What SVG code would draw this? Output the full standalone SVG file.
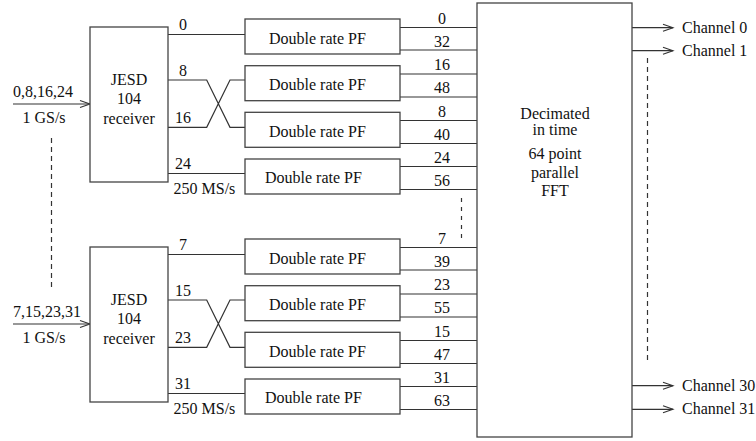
<svg xmlns="http://www.w3.org/2000/svg" width="756" height="441" viewBox="0 0 756 441">
<defs>
<marker id="arr" markerUnits="userSpaceOnUse" markerWidth="12" markerHeight="8" refX="10" refY="3.5" orient="auto" overflow="visible">
<path d="M0,0 L10,3.5 L0,7" fill="none" stroke="#333" stroke-width="1.1"/>
</marker>
</defs>
<style>
.box{fill:#fff;stroke:#444;stroke-width:1.3}
.ln{fill:none;stroke:#333;stroke-width:1.2}
.dash{fill:none;stroke:#333;stroke-width:1.2;stroke-dasharray:5,4}
text{font-family:"Liberation Serif","Times New Roman",serif;font-size:16px;fill:#111}
.c{text-anchor:middle}
</style>
<rect width="756" height="441" fill="#fff"/>
<g id="connectors">
<line class="ln" x1="13" y1="104" x2="90" y2="104" marker-end="url(#arr)"/>
<line class="ln" x1="13" y1="324" x2="90" y2="324" marker-end="url(#arr)"/>
<path class="ln" d="M168,34.5H245M168,80H206.7L230,127.3H245M168,127.3H206.7L230,80H245M168,173.5H245"/>
<path class="ln" d="M168,254.5H245M168,300H206.7L230,347.3H245M168,347.3H206.7L230,300H245M168,393.5H245"/>
<path class="ln" d="M400,27.5H477M400,50H477M400,74H477M400,97H477M400,120.5H477M400,143.5H477M400,166.5H477M400,189.5H477"/>
<path class="ln" d="M400,247.5H477M400,270H477M400,294H477M400,317H477M400,340.5H477M400,363.5H477M400,386.5H477M400,409.5H477"/>
<line class="ln" x1="632" y1="27.7" x2="673" y2="27.7" marker-end="url(#arr)"/>
<line class="ln" x1="632" y1="50.7" x2="673" y2="50.7" marker-end="url(#arr)"/>
<line class="ln" x1="632" y1="385.7" x2="673" y2="385.7" marker-end="url(#arr)"/>
<line class="ln" x1="632" y1="409.3" x2="673" y2="409.3" marker-end="url(#arr)"/>
<line class="dash" x1="51.5" y1="138" x2="51.5" y2="288"/>
<line class="dash" x1="461.5" y1="198" x2="461.5" y2="240" style="stroke-dasharray:4,5"/>
<line class="dash" x1="647.5" y1="58" x2="647.5" y2="362"/>
</g>
<g id="labels">
<text x="13" y="97">0,8,16,24</text>
<text class="c" x="44" y="123">1 GS/s</text>
<text x="13" y="317">7,15,23,31</text>
<text class="c" x="44" y="343">1 GS/s</text>
<text class="c" x="183" y="30">0</text>
<text class="c" x="183" y="76">8</text>
<text class="c" x="183" y="123">16</text>
<text class="c" x="183" y="169">24</text>
<text x="173.5" y="193.5">250 MS/s</text>
<text class="c" x="183" y="250">7</text>
<text class="c" x="183" y="296">15</text>
<text class="c" x="183" y="343">23</text>
<text class="c" x="183" y="389">31</text>
<text x="173.5" y="413.5">250 MS/s</text>
<text class="c" x="442" y="23.5">0</text>
<text class="c" x="442" y="46.5">32</text>
<text class="c" x="442" y="70">16</text>
<text class="c" x="442" y="93">48</text>
<text class="c" x="442" y="116.5">8</text>
<text class="c" x="442" y="139.5">40</text>
<text class="c" x="442" y="162.5">24</text>
<text class="c" x="442" y="185.5">56</text>
<text class="c" x="442" y="243.5">7</text>
<text class="c" x="442" y="266.5">39</text>
<text class="c" x="442" y="290">23</text>
<text class="c" x="442" y="313">55</text>
<text class="c" x="442" y="336.5">15</text>
<text class="c" x="442" y="359.5">47</text>
<text class="c" x="442" y="382.5">31</text>
<text class="c" x="442" y="405.5">63</text>
<text x="682" y="32.5">Channel 0</text>
<text x="682" y="55.5">Channel 1</text>
<text x="682" y="390.5">Channel 30</text>
<text x="682" y="414">Channel 31</text>
</g>
<g id="jesd1"><rect class="box" x="90" y="27" width="78" height="155"/>
<text class="c" x="129" y="85">JESD</text><text class="c" x="129" y="103.5">104</text><text class="c" x="129" y="123.5">receiver</text></g>
<g id="jesd2"><rect class="box" x="90" y="247" width="78" height="155"/>
<text class="c" x="129" y="305">JESD</text><text class="c" x="129" y="323.5">104</text><text class="c" x="129" y="343.5">receiver</text></g>
<g id="pf1"><rect class="box" x="245" y="19" width="155" height="35"/><text x="269" y="43.5">Double rate PF</text></g>
<g id="pf2"><rect class="box" x="245" y="65.7" width="155" height="35"/><text x="269" y="90">Double rate PF</text></g>
<g id="pf3"><rect class="box" x="245" y="112.3" width="155" height="35"/><text x="269" y="136.5">Double rate PF</text></g>
<g id="pf4"><rect class="box" x="245" y="159" width="155" height="35"/><text x="265" y="183">Double rate PF</text></g>
<g id="pf5"><rect class="box" x="245" y="239" width="155" height="35"/><text x="269" y="263.5">Double rate PF</text></g>
<g id="pf6"><rect class="box" x="245" y="285.7" width="155" height="35"/><text x="269" y="310">Double rate PF</text></g>
<g id="pf7"><rect class="box" x="245" y="332.3" width="155" height="35"/><text x="269" y="356.5">Double rate PF</text></g>
<g id="pf8"><rect class="box" x="245" y="379" width="155" height="35"/><text x="265" y="403">Double rate PF</text></g>
<g id="fft"><rect class="box" x="477" y="3" width="155" height="434"/>
<text class="c" x="555" y="119">Decimated</text>
<text class="c" x="555" y="134.5">in time</text>
<text class="c" x="555" y="158.5">64 point</text>
<text class="c" x="555" y="178">parallel</text>
<text class="c" x="555" y="195.5">FFT</text></g>
</svg>
